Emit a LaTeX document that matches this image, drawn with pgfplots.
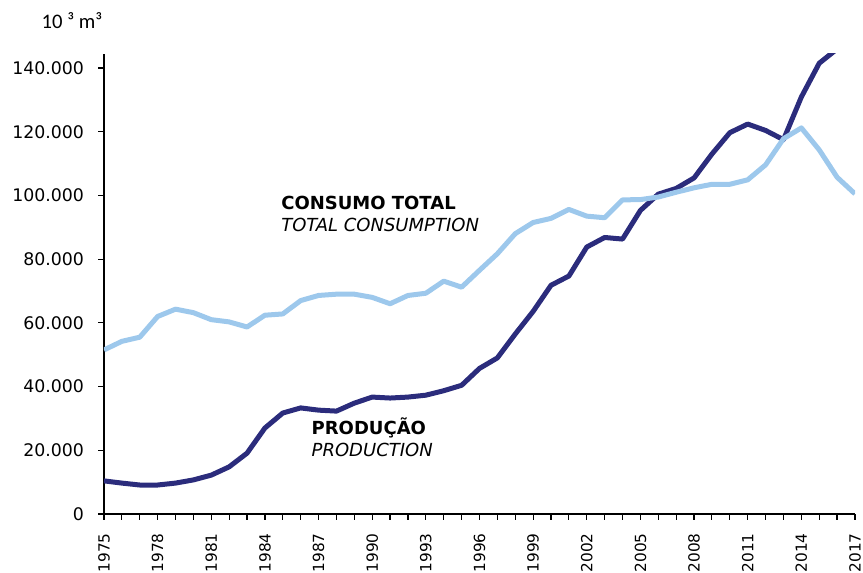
\documentclass[border=0pt]{standalone}
\usepackage{pgfplots}
\pgfplotsset{compat=1.18}
\usepackage{fontspec}
\setmainfont{DejaVu Sans}
\newfontfamily\unitfont{Carlito}

\definecolor{prodblue}{HTML}{2B2C7C}
\definecolor{consblue}{HTML}{9DC8EC}

\begin{document}
\begin{tikzpicture}[x=0.75pt,y=0.75pt]
\begin{axis}[
    at={(0,0)}, anchor=south west,
    scale only axis,
    width=563.25pt, height=345pt,
    xmin=1975, xmax=2017,
    ymin=0, ymax=144400,
    axis x line*=bottom, axis y line*=left,
    axis line style={black, line width=0.9pt},
    xtick={1975,1978,...,2017},
    minor xtick={1975,...,2017},
    ytick={0,20000,...,140000},
    tick align=outside,
    major tick length=4.5pt, minor tick length=4.5pt,
    tick style={black, line width=0.9pt},
    scaled y ticks=false,
    /pgf/number format/assume math mode=true,
    yticklabel style={font=\fontsize{13}{15}\selectfont,
        /pgf/number format/.cd, fixed, 1000 sep={.}},
    xticklabel style={font=\fontsize{11.5}{14}\selectfont,
        rotate=90, anchor=east, /pgf/number format/1000 sep={}},
    xticklabel shift=6.5pt,
    yticklabel shift=7pt,
    line join=round,
]

% Producao
\addplot[prodblue, line width=3.75pt] coordinates {
    (1975,10400) (1976,9700) (1977,9100) (1978,9100) (1979,9700)
    (1980,10700) (1981,12200) (1982,14800) (1983,19100) (1984,27000)
    (1985,31700) (1986,33300) (1987,32600) (1988,32300) (1989,34800)
    (1990,36700) (1991,36400) (1992,36700) (1993,37300) (1994,38700)
    (1995,40400) (1996,45700) (1997,49000) (1998,56500) (1999,63600)
    (2000,71800) (2001,74700) (2002,83800) (2003,86800) (2004,86300)
    (2005,95300) (2006,100400) (2007,102200) (2008,105500) (2009,113000)
    (2010,119700) (2011,122400) (2012,120400) (2013,117500) (2014,130900)
    (2015,141500) (2016,146000) (2017,152600)
};

% Consumo total
\addplot[consblue, line width=3.75pt] coordinates {
    (1975,51500) (1976,54200) (1977,55500) (1978,62000) (1979,64300)
    (1980,63200) (1981,61000) (1982,60300) (1983,58700) (1984,62400)
    (1985,62800) (1986,67000) (1987,68600) (1988,69000) (1989,69000)
    (1990,68000) (1991,66000) (1992,68600) (1993,69300) (1994,73100)
    (1995,71200) (1996,76500) (1997,81700) (1998,88000) (1999,91500)
    (2000,92800) (2001,95600) (2002,93500) (2003,93000) (2004,98600)
    (2005,98700) (2006,99500) (2007,101000) (2008,102400) (2009,103500)
    (2010,103500) (2011,104900) (2012,109600) (2013,117800) (2014,121200)
    (2015,114300) (2016,105700) (2017,100500)
};

\node[anchor=base west, font=\fontsize{13.5}{16}\selectfont\bfseries, inner sep=0pt]
    at (axis cs:1984.9,95700) {CONSUMO TOTAL};
\node[anchor=base west, font=\fontsize{13.5}{16}\selectfont\itshape, inner sep=0pt]
    at (axis cs:1984.9,88700) {TOTAL CONSUMPTION};
\node[anchor=base west, font=\fontsize{13.5}{16}\selectfont\bfseries, inner sep=0pt]
    at (axis cs:1986.6,24900) {PRODUÇÃO};
\node[anchor=base west, font=\fontsize{13.5}{16}\selectfont\itshape, inner sep=0pt]
    at (axis cs:1986.6,18200) {PRODUCTION};
\end{axis}

\node[font=\unitfont\fontsize{15.5}{18}\selectfont, inner sep=0pt] at (-32,493) {10 ³ m³};

\pgfresetboundingbox
\path[use as bounding box] (-104,-59) rectangle (759,514);
\end{tikzpicture}
\end{document}
